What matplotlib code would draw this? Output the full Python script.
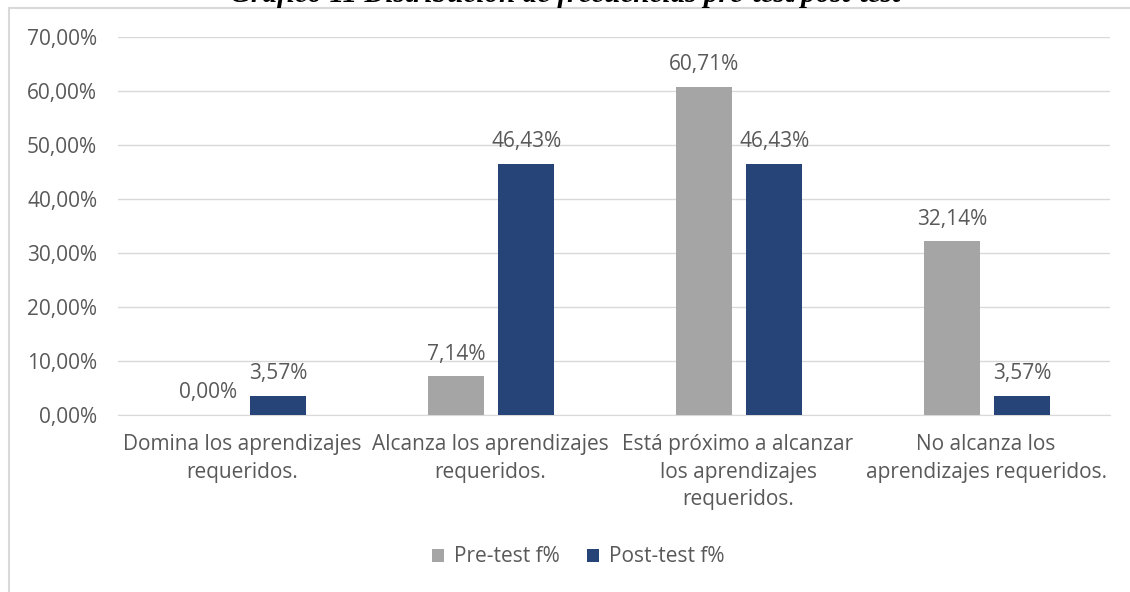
import matplotlib
matplotlib.use('Agg')
import matplotlib.pyplot as plt
import numpy as np
from matplotlib.patches import Rectangle

# categories and values
categorias = ['Domina los aprendizajes\nrequeridos.',
              'Alcanza los aprendizajes\nrequeridos.',
              'Está próximo a alcanzar\nlos aprendizajes\nrequeridos.',
              'No alcanza los\naprendizajes requeridos.']
pre_test = [0.00, 7.14, 60.71, 32.14]
post_test = [3.57, 46.43, 46.43, 3.57]
series_names = ['Pre-test f%', 'Post-test f%']
yticks = [0, 10, 20, 30, 40, 50, 60, 70]

gris = '#A5A5A5'
azul = '#264478'
txt = '#595959'
fs = 15

plt.rcParams['font.family'] = ['Open Sans', 'DejaVu Sans']

W, H = 1130, 592
fig = plt.figure(figsize=(W / 100, H / 100), dpi=100)
ax = fig.add_axes([118 / W, 1 - 415 / H, (1110 - 118) / W, (415 - 37) / H])

def fmt(v):
    return ('%.2f' % v).replace('.', ',') + '%'

x = np.arange(len(categorias))
bw = 0.225
b1 = ax.bar(x - 0.137, pre_test, bw, color=gris, label=series_names[0], zorder=3)
b2 = ax.bar(x + 0.146, post_test, bw, color=azul, label=series_names[1], zorder=3)

for bars, vals in ((b1, pre_test), (b2, post_test)):
    for b, v in zip(bars, vals):
        ax.annotate(fmt(v), (b.get_x() + b.get_width() / 2, v), xytext=(0, 8.5),
                    textcoords='offset points', ha='center', va='bottom',
                    fontsize=fs, color=txt)

ax.set_xlim(-0.5, len(categorias) - 0.5)
ax.set_ylim(0, 70)
ax.set_yticks(yticks)
ax.set_yticklabels([fmt(v) for v in yticks], fontsize=fs, color=txt)
ax.set_xticks(x)
ax.set_xticklabels(categorias, fontsize=fs, color=txt, linespacing=1.4)
ax.tick_params(axis='both', length=0)
ax.tick_params(axis='y', pad=15)
ax.tick_params(axis='x', pad=14)
ax.grid(axis='y', color='#D9D9D9', lw=1, zorder=0)
for s in ['top', 'right', 'left']:
    ax.spines[s].set_visible(False)
ax.spines['bottom'].set_color('#D9D9D9')

fig.legend(handles=[b1, b2], loc='center', bbox_to_anchor=(578 / W, 1 - 557 / H),
           ncol=2, frameon=False, fontsize=fs, labelcolor=txt,
           handlelength=0.6, handleheight=0.6, columnspacing=1.3, handletextpad=0.45)

# chart frame
fig.patches.append(Rectangle((9 / W, -0.1), 1.2, 1 - 7.5 / H + 0.1, transform=fig.transFigure,
                             fill=False, edgecolor='#D9D9D9', lw=1.5))

# caption cut at the top of the picture, as in the source
fig.text(565 / W, 1 - 2.5 / H, 'Gráfico 11 Distribución de frecuencias pre-test/post-test',
         ha='center', va='baseline', fontsize=21, fontweight='bold', fontstyle='italic',
         family=['Liberation Serif', 'DejaVu Serif'])

fig.savefig('out.png', dpi=100)
